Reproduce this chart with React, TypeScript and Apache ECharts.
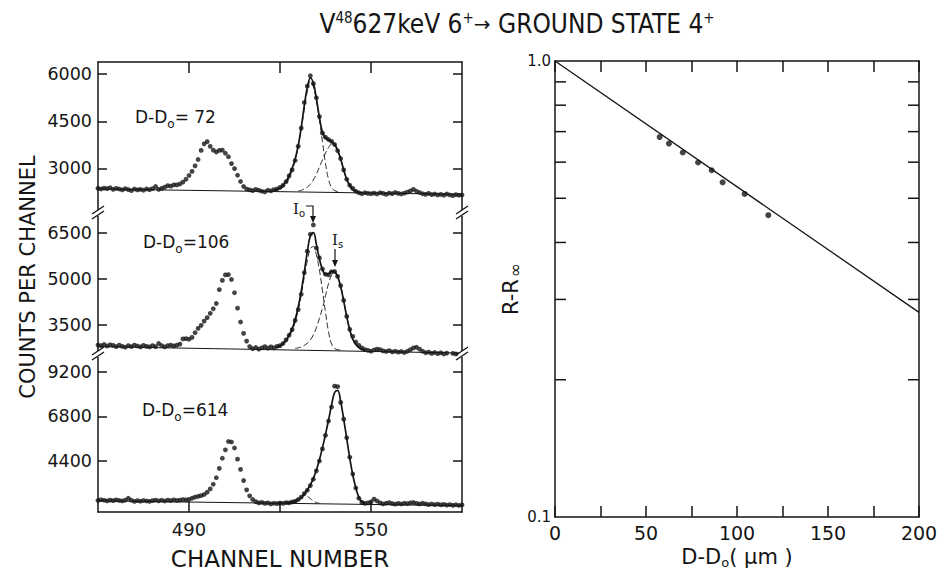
import React, { useEffect, useRef } from "react";
import * as echarts from "echarts";

// ---------------- DATA ----------------
// Left: gamma spectra, counts per channel for channels 460..580
const CH_START = 460;

const counts72 = [
  2360, 2340, 2370, 2350, 2380, 2330, 2360, 2340, 2310, 2350,
  2320, 2290, 2340, 2310, 2330, 2300, 2340, 2320, 2350, 2420,
  2330, 2360, 2400, 2450, 2430, 2470, 2470, 2500, 2560, 2650,
  2770, 2900, 3080, 3280, 3570, 3780, 3850, 3700, 3580, 3520,
  3570, 3580, 3480, 3370, 3150, 2990, 2780, 2580, 2420, 2340,
  2310, 2290, 2330, 2300, 2270, 2250, 2300, 2280, 2320, 2340,
  2390, 2460, 2570, 2760, 2950, 3250, 3700, 4280, 5100, 5620,
  5950, 5700, 5250, 4650, 4120, 3990, 3920, 3860, 3760, 3560,
  3310, 2950, 2650, 2460, 2360, 2270, 2220, 2190, 2220, 2200,
  2190, 2210, 2180, 2220, 2200, 2170, 2210, 2190, 2230, 2200,
  2180, 2210, 2240, 2280, 2330, 2270, 2230, 2190, 2170, 2200,
  2160, 2180, 2150, 2170, 2140, 2180, 2150, 2130, 2160, 2140,
  2150,
];

const counts106 = [
  2850, 2830, 2870, 2820, 2860, 2840, 2800, 2850, 2810, 2780,
  2830, 2800, 2850, 2820, 2790, 2840, 2810, 2790, 2830, 2800,
  2900, 2830, 2790, 2830, 2850, 2820, 2850, 2880, 3050, 3060,
  3040, 3100, 3250, 3390, 3490, 3630, 3740, 3880, 4030, 4200,
  4650, 4950, 5130, 5140, 4980, 4550, 4050, 3600, 3230, 2980,
  2800, 2730, 2770, 2720, 2760, 2800, 2750, 2790, 2760, 2810,
  2830, 2900, 3020, 3170, 3350, 3650, 4000, 4500, 5200, 5900,
  6450, 6750, 6000, 5680, 5320, 5150, 5130, 5230, 5240, 5080,
  4780, 4300, 3780, 3360, 3130, 2950, 2840, 2760, 2700, 2680,
  2650, 2690, 2720, 2700, 2660, 2640, 2670, 2630, 2650, 2620,
  2640, 2610, 2650, 2700, 2760, 2780, 2720, 2650, 2600, 2620,
  2580, 2610, 2570, 2600, 2560, 2590, 2550, 2580, 2560, 2540,
  2570,
];

const counts614 = [
  2280, 2320, 2290, 2260, 2300, 2270, 2310, 2280, 2250, 2300,
  2400, 2290, 2230, 2270, 2240, 2280, 2250, 2230, 2270, 2300,
  2260, 2290, 2250, 2300, 2270, 2310, 2280, 2300, 2330, 2310,
  2340, 2400, 2460, 2500, 2540, 2600, 2720, 2900, 3150, 3500,
  4000, 4550, 5000, 5450, 5420, 5100, 4500, 3950, 3350, 2850,
  2530, 2330, 2220, 2150, 2180, 2120, 2150, 2100, 2130, 2110,
  2140, 2120, 2160, 2150, 2200, 2240, 2330, 2460, 2650, 2830,
  3080, 3420, 3870, 4400, 5050, 5780, 6550, 7300, 8420, 8400,
  7550, 6650, 5650, 4600, 3700, 2950, 2400, 2180, 2120, 2150,
  2200, 2350, 2250, 2150, 2100, 2130, 2160, 2110, 2080, 2120,
  2090, 2130, 2110, 2150, 2170, 2120, 2090, 2130, 2100, 2060,
  2090, 2050, 2080, 2040, 2070, 2030, 2060, 2020, 2050, 2010,
  2040,
];

// Fitted curves (start channel + values per channel)
const FIT72_TOTAL_START = 518;
const fit72Total = [2290, 2320, 2380, 2460, 2590, 2770, 3000, 3300, 3720, 4300, 5000, 5580, 5880, 5720, 5220, 4620, 4150, 3970, 3900, 3850, 3760, 3570, 3300, 2950, 2650, 2450, 2330, 2260, 2230, 2220];
const FIT72_IO_START = 520;
const fit72Io = [2340, 2400, 2500, 2680, 2930, 3250, 3700, 4250, 4870, 5450, 5780, 5600, 5150, 4550, 3850, 3150, 2650, 2380, 2290, 2260, 2250];
const FIT72_IS_START = 526;
const fit72Is = [2270, 2300, 2340, 2400, 2490, 2630, 2820, 3040, 3270, 3490, 3660, 3770, 3760, 3580, 3300, 2950, 2640, 2420, 2300, 2250, 2230, 2220];
const bg72 = [[460, 2340], [580, 2170]];

const FIT106_TOTAL_START = 519;
const fit106Total = [2790, 2830, 2900, 3010, 3170, 3380, 3680, 4080, 4600, 5220, 5880, 6400, 6500, 6120, 5650, 5300, 5150, 5170, 5250, 5230, 5070, 4750, 4280, 3780, 3340, 3040, 2870, 2770, 2710, 2690];
const FIT106_IO_START = 519;
const fit106Io = [2780, 2810, 2870, 2970, 3120, 3320, 3600, 3980, 4480, 5050, 5580, 5980, 6050, 5780, 5280, 4620, 3920, 3280, 2880, 2740, 2700, 2690];
const FIT106_IS_START = 525;
const fit106Is = [2740, 2760, 2790, 2840, 2910, 3020, 3180, 3420, 3720, 4050, 4450, 4850, 5120, 5230, 5080, 4760, 4280, 3780, 3340, 3040, 2870, 2770, 2710, 2690];
const bg106 = [[460, 2800], [580, 2590]];

const FIT614_TOTAL_START = 522;
const fit614Total = [2160, 2170, 2190, 2230, 2310, 2440, 2630, 2850, 3120, 3470, 3920, 4470, 5120, 5830, 6600, 7400, 8080, 8200, 7600, 6650, 5600, 4550, 3650, 2950, 2450, 2200, 2110];
const FIT614_IO_START = 524;
const fit614Io = [2140, 2180, 2280, 2430, 2540, 2500, 2380, 2250, 2170, 2130];
const bg614 = [[460, 2260], [580, 2000]];

const channelTicks = [490, 520, 550];
const channelLabels = [490, 550];
const ticks72 = [3000, 4500, 6000];
const ticks106 = [3500, 5000, 6500];
const ticks614 = [4400, 6800, 9200];

// Right: R - R_inf vs D - D0
const depthUm = [57.5, 62.6, 70.2, 78.6, 86.1, 92.1, 104.2, 117.2];
const ratioR = [0.681, 0.659, 0.63, 0.599, 0.576, 0.542, 0.511, 0.459];
const fitRatio = [[0, 1.0], [200, 0.281]];
const logMinorTicks = [0.2, 0.3, 0.4, 0.5, 0.6, 0.7, 0.8, 0.9];

// ---------------- STYLE ----------------
const INK = "#151515";
const FONT = "'DejaVu Sans', 'Liberation Sans', sans-serif";
const NARROW = "'Liberation Sans Narrow', 'DejaVu Sans Condensed', 'Liberation Sans', sans-serif";
const line = { color: INK, width: 1.5 };

const pairs = (start: number, vals: number[]) => vals.map((v, i) => [start + i, v]);

function buildOption(): any {
  const L = 98, W = 364;
  const gridsLeft = [
    { left: L, width: W, top: 62, height: 151, outerBoundsMode: "none", containLabel: false },
    { left: L, width: W, top: 213, height: 141, outerBoundsMode: "none", containLabel: false },
    { left: L, width: W, top: 354, height: 158, outerBoundsMode: "none", containLabel: false },
  ];
  const ranges = [
    { min: 1575, max: 6390, ticks: ticks72 },
    { min: 2560, max: 7140, ticks: ticks106 },
    { min: 1660, max: 10150, ticks: ticks614 },
  ];

  const xAxis: any[] = [
    {
      gridIndex: 0, type: "value", min: 460, max: 580, position: "top",
      axisLine: { show: true, onZero: false, lineStyle: line },
      axisTick: { show: true, inside: true, length: 11, customValues: channelTicks, lineStyle: line },
      axisLabel: { show: false }, splitLine: { show: false },
    },
    { gridIndex: 1, type: "value", min: 460, max: 580, show: false },
    {
      gridIndex: 2, type: "value", min: 460, max: 580, position: "bottom",
      axisLine: { show: true, onZero: false, lineStyle: line },
      axisTick: { show: true, inside: true, length: 11, customValues: channelTicks, lineStyle: line },
      axisLabel: { show: true, customValues: channelLabels, fontSize: 18, color: INK, fontFamily: FONT, margin: 8 },
      splitLine: { show: false },
      name: "CHANNEL NUMBER", nameLocation: "middle", nameGap: 35,
      nameTextStyle: { fontSize: 23, color: INK, fontFamily: FONT },
    },
    {
      gridIndex: 3, type: "value", min: 0, max: 200, interval: 25, position: "bottom",
      axisLine: { show: true, onZero: false, lineStyle: line },
      axisTick: { show: true, inside: true, length: 11, lineStyle: line },
      axisLabel: {
        show: true, fontSize: 19, color: INK, fontFamily: FONT, margin: 6,
        formatter: (v: number) => (v % 50 === 0 ? String(v) : ""),
      },
      splitLine: { show: false },
      name: "D-D{sub|o}( μm )", nameLocation: "middle", nameGap: 26,
      nameTextStyle: {
        fontSize: 21, color: INK, fontFamily: FONT,
        rich: { sub: { fontSize: 13, color: INK, fontFamily: FONT, verticalAlign: "bottom", padding: [11, 0, 0, 0] } },
      },
    },
    {
      gridIndex: 3, type: "value", min: 0, max: 200, interval: 25, position: "top",
      axisLine: { show: true, onZero: false, lineStyle: line },
      axisTick: { show: true, inside: true, length: 11, lineStyle: line },
      axisLabel: { show: false }, splitLine: { show: false },
    },
  ];

  const yAxis: any[] = [];
  ranges.forEach((r, i) => {
    yAxis.push({
      gridIndex: i, type: "value", min: r.min, max: r.max, position: "left",
      axisLine: { show: true, onZero: false, lineStyle: line },
      axisTick: { show: true, inside: true, length: 9, customValues: r.ticks, lineStyle: line },
      axisLabel: {
        show: true, customValues: r.ticks, fontSize: 17.5, color: INK, fontFamily: FONT, margin: 6,
        formatter: (v: number) => String(v),
      },
      splitLine: { show: false },
    });
    yAxis.push({
      gridIndex: i, type: "value", min: r.min, max: r.max, position: "right",
      axisLine: { show: true, onZero: false, lineStyle: line },
      axisTick: { show: true, inside: true, length: 9, customValues: r.ticks, lineStyle: line },
      axisLabel: { show: false }, splitLine: { show: false },
    });
  });
  yAxis.push({
    gridIndex: 3, type: "log", logBase: 10, min: 0.1, max: 1, position: "left",
    axisLine: { show: true, onZero: false, lineStyle: line },
    axisTick: { show: false },
    axisLabel: { show: true, fontSize: 15, color: INK, fontFamily: FONT, margin: 4, formatter: (v: number) => Number(v).toFixed(1) },
    splitLine: { show: false }, minorTick: { show: false },
    name: "R-R{sub|∞}", nameLocation: "middle", nameGap: 32,
    nameTextStyle: {
      fontSize: 21, color: INK, fontFamily: FONT,
      rich: { sub: { fontSize: 17, color: INK, fontFamily: FONT, verticalAlign: "bottom", padding: [7, 0, 0, 2] } },
    },
  });
  yAxis.push({
    gridIndex: 3, type: "log", logBase: 10, min: 0.1, max: 1, position: "right",
    axisLine: { show: true, onZero: false, lineStyle: line },
    axisTick: { show: false }, axisLabel: { show: false }, splitLine: { show: false },
  });

  const series: any[] = [];
  const panel = (xi: number, yi: number, dots: number[], bg: number[][], curves: { start: number; vals: number[]; dashed: boolean }[]) => {
    series.push({
      type: "line", xAxisIndex: xi, yAxisIndex: yi, data: bg, symbol: "none",
      lineStyle: { color: INK, width: 1 }, z: 2,
    });
    curves.forEach((c) => {
      series.push({
        type: "line", xAxisIndex: xi, yAxisIndex: yi, data: pairs(c.start, c.vals), symbol: "none", smooth: 0.4,
        lineStyle: c.dashed ? { color: INK, width: 0.9, type: [6, 3] } : { color: INK, width: 1.7 }, z: 3,
      });
    });
    series.push({
      type: "scatter", xAxisIndex: xi, yAxisIndex: yi, data: pairs(CH_START, dots),
      symbol: "circle", symbolSize: 4.8, itemStyle: { color: INK }, z: 4,
    });
  };
  panel(0, 0, counts72, bg72, [
    { start: FIT72_TOTAL_START, vals: fit72Total, dashed: false },
    { start: FIT72_IO_START, vals: fit72Io, dashed: true },
    { start: FIT72_IS_START, vals: fit72Is, dashed: true },
  ]);
  panel(1, 2, counts106, bg106, [
    { start: FIT106_TOTAL_START, vals: fit106Total, dashed: false },
    { start: FIT106_IO_START, vals: fit106Io, dashed: true },
    { start: FIT106_IS_START, vals: fit106Is, dashed: true },
  ]);
  panel(2, 4, counts614, bg614, [
    { start: FIT614_TOTAL_START, vals: fit614Total, dashed: false },
    { start: FIT614_IO_START, vals: fit614Io, dashed: true },
  ]);

  // Right panel
  series.push({
    type: "line", xAxisIndex: 3, yAxisIndex: 6, data: fitRatio, symbol: "none",
    lineStyle: { color: INK, width: 1.3 }, z: 3,
  });
  series.push({
    type: "scatter", xAxisIndex: 3, yAxisIndex: 6, data: depthUm.map((d, i) => [d, ratioR[i]]),
    symbol: "circle", symbolSize: 6, itemStyle: { color: INK }, z: 4,
  });
  series.push({
    type: "custom", xAxisIndex: 3, yAxisIndex: 6, silent: true, clip: false,
    data: logMinorTicks.map((v) => [0, v]),
    renderItem: (_p: any, api: any) => {
      const v = api.value(1);
      const l = api.coord([0, v]);
      const r = api.coord([200, v]);
      return {
        type: "group",
        children: [
          { type: "line", shape: { x1: l[0], y1: l[1], x2: l[0] + 11, y2: l[1] }, style: { stroke: INK, lineWidth: 1.5 } },
          { type: "line", shape: { x1: r[0] - 11, y1: r[1], x2: r[0], y2: r[1] }, style: { stroke: INK, lineWidth: 1.5 } },
        ],
      };
    },
  });

  const breakMark = (x: number, y: number) => [
    { type: "rect", z: 100, shape: { x: x - 3, y: y - 3, width: 6, height: 6 }, style: { fill: "#fff" } },
    { type: "line", z: 101, shape: { x1: x - 6, y1: y + 1, x2: x + 6, y2: y - 7 }, style: { stroke: INK, lineWidth: 1.3 } },
    { type: "line", z: 101, shape: { x1: x - 6, y1: y + 6, x2: x + 6, y2: y - 2 }, style: { stroke: INK, lineWidth: 1.3 } },
  ];

  const subRich = { sub: { fontSize: 12, fontFamily: FONT, fill: INK, verticalAlign: "bottom", padding: [13, 0, 0, 0] } };
  const dLabel = (x: number, y: number, val: string) => ({
    type: "text", z: 100, x, y,
    style: { text: "D-D{sub|o}=" + val, fontSize: 17, fontFamily: FONT, fill: INK, verticalAlign: "middle", align: "left", rich: subRich },
  });

  const graphic: any[] = [
    {
      type: "text", z: 100, x: 517, y: 24,
      style: {
        text: "V{sup|48}627keV 6{sup|+}{arr|→} GROUND STATE 4{sup|+}",
        fontSize: 26, fontFamily: NARROW, fill: INK, align: "center", verticalAlign: "middle",
        rich: {
          sup: { fontSize: 15, fontFamily: NARROW, fill: INK, verticalAlign: "top", padding: [0, 0, 12, 0] },
          arr: { fontSize: 20, fontFamily: FONT, fill: INK },
        },
      },
    },
    {
      type: "text", z: 100, x: 28, y: 277, rotation: Math.PI / 2,
      style: { text: "COUNTS PER CHANNEL", fontSize: 21, fontFamily: FONT, fill: INK, align: "center", verticalAlign: "middle" },
    },
    dLabel(135, 117, " 72"),
    dLabel(143, 242, "106"),
    dLabel(142, 410, "614"),
    // I_o annotation
    {
      type: "text", z: 100, x: 293, y: 209,
      style: { text: "I{sub|o}", fontSize: 15, fontFamily: "'DejaVu Serif', serif", fill: INK, verticalAlign: "middle", align: "left",
        rich: { sub: { fontSize: 10, fontFamily: FONT, fill: INK, verticalAlign: "bottom", padding: [9, 0, 0, 0] } } },
    },
    { type: "polyline", z: 100, shape: { points: [[306, 206], [313, 206], [313, 218]] }, style: { stroke: INK, lineWidth: 1.2, fill: null } },
    { type: "polygon", z: 100, shape: { points: [[310, 216], [316, 216], [313, 223]] }, style: { fill: INK } },
    // I_s annotation
    {
      type: "text", z: 100, x: 332, y: 240,
      style: { text: "I{sub|s}", fontSize: 15, fontFamily: "'DejaVu Serif', serif", fill: INK, verticalAlign: "middle", align: "left",
        rich: { sub: { fontSize: 10, fontFamily: FONT, fill: INK, verticalAlign: "bottom", padding: [9, 0, 0, 0] } } },
    },
    { type: "line", z: 100, shape: { x1: 335, y1: 249, x2: 335, y2: 262 }, style: { stroke: INK, lineWidth: 1.2 } },
    { type: "polygon", z: 100, shape: { points: [[332, 260], [338, 260], [335, 267]] }, style: { fill: INK } },
    ...breakMark(98, 213),
    ...breakMark(462, 213),
    ...breakMark(98, 354),
    ...breakMark(462, 354),
  ];

  return {
    animation: false,
    backgroundColor: "#ffffff",
    grid: [...gridsLeft, { left: 555, width: 364, top: 61, height: 456, outerBoundsMode: "none", containLabel: false }],
    xAxis,
    yAxis,
    series,
    graphic,
  };
}

export default function App() {
  const ref = useRef<HTMLDivElement>(null);
  useEffect(() => {
    if (!ref.current) return;
    const chart = echarts.init(ref.current, undefined, { renderer: "svg" });
    chart.setOption(buildOption());
    return () => chart.dispose();
  }, []);
  return (
    <div
      ref={ref}
      style={{ position: "absolute", left: 0, top: 0, width: 940, height: 573, background: "#fff" }}
    />
  );
}
